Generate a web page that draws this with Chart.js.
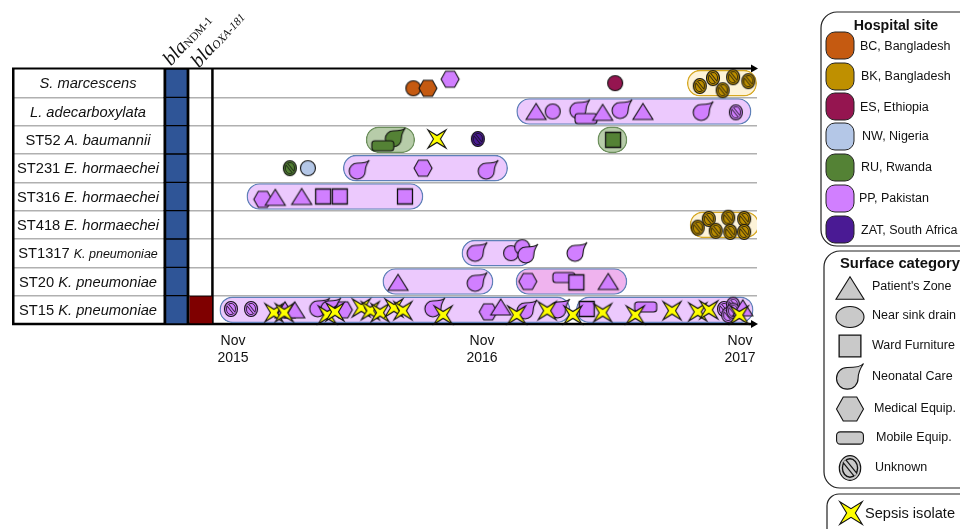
<!DOCTYPE html>
<html>
<head>
<meta charset="utf-8">
<title>Isolates timeline</title>
<script src="https://cdn.jsdelivr.net/npm/chart.js@4"></script>
<style>
    html, body { margin: 0; padding: 0; background: #fff; }
    canvas { display: block; }
</style>
</head>
<body>
<canvas id="chart" width="960" height="529"></canvas>
<script>
// rows, top to bottom
const strainTypes = ['', '', 'ST52', 'ST231', 'ST316', 'ST418', 'ST1317', 'ST20', 'ST15'];
const species = ['S. marcescens', 'L. adecarboxylata', 'A. baumannii', 'E. hormaechei', 'E. hormaechei',
    'E. hormaechei', 'K. pneumoniae', 'K. pneumoniae', 'K. pneumoniae'];
const blaNdm1 = [1, 1, 1, 1, 1, 1, 1, 1, 1];
const blaOxa181 = [0, 0, 0, 0, 0, 0, 0, 0, 1];

// x axis is days since 1 Nov 2015
const tickDays = [0, 359, 731];
const tickLabels = [['Nov', '2015'], ['Nov', '2016'], ['Nov', '2017']];

// outbreak bands
const bandRow = [0, 1, 2, 2, 3, 4, 5, 6, 7, 7, 8, 8];
const bandStart = [655, 409, 192, 526, 159, 20, 659, 330, 216, 408, -19, 495];
const bandEnd = [755, 747, 262, 568, 396, 274, 758, 431, 375, 568, 486, 750];
const bandSite = ['BK', 'PP', 'RU', 'RU', 'PP', 'PP', 'BK', 'PP', 'PP', 'PP+', 'PP', 'PP'];

// isolates: [day, row + offset within the row, site, surface]
const row0Isolates = [[260, 0.18, 'BC', 'drain'], [281, 0.18, 'BC', 'medical'], [313, -0.14, 'PP', 'medical'],
    [551, 0, 'ES', 'drain'], [673, 0.1, 'BK', 'unknown'], [692, -0.18, 'BK', 'unknown'], [706, 0.25, 'BK', 'unknown'],
    [721, -0.21, 'BK', 'unknown'], [743, -0.07, 'BK', 'unknown']];
const row1Isolates = [[437, 1, 'PP', 'patient'], [461, 1, 'PP', 'drain'], [500, 0.93, 'PP', 'neonatal'],
    [509, 1.25, 'PP', 'mobile'], [533, 1.03, 'PP', 'patient'], [561, 0.93, 'PP', 'neonatal'], [591, 1, 'PP', 'patient'],
    [678, 1, 'PP', 'neonatal'], [725, 1.03, 'PP', 'unknown']];
const row2Isolates = [[234, 1.93, 'RU', 'neonatal'], [216, 2.21, 'RU', 'mobile'], [353, 1.97, 'ZAT', 'unknown'],
    [548, 2, 'RU', 'furniture']];
const row3Isolates = [[82, 3, 'RU', 'unknown'], [108, 3, 'NW', 'drain'], [182, 3.07, 'PP', 'neonatal'],
    [274, 3, 'PP', 'medical'], [368, 3.07, 'PP', 'neonatal']];
const row4Isolates = [[43, 4.1, 'PP', 'medical'], [61, 4.03, 'PP', 'patient'], [99, 4, 'PP', 'patient'],
    [130, 4, 'PP', 'furniture'], [154, 4, 'PP', 'furniture'], [248, 4, 'PP', 'furniture']];
const row5Isolates = [[670, 5.1, 'BK', 'unknown'], [686, 4.79, 'BK', 'unknown'], [696, 5.21, 'BK', 'unknown'],
    [714, 4.75, 'BK', 'unknown'], [717, 5.25, 'BK', 'unknown'], [737, 4.79, 'BK', 'unknown'], [737, 5.25, 'BK', 'unknown']];
const row6Isolates = [[352, 5.97, 'PP', 'neonatal'], [401, 6, 'PP', 'drain'], [417, 5.79, 'PP', 'drain'],
    [425, 6.03, 'PP', 'neonatal'], [496, 5.97, 'PP', 'neonatal']];
const row7Isolates = [[238, 7.03, 'PP', 'patient'], [352, 7.03, 'PP', 'neonatal'], [425, 7, 'PP', 'medical'],
    [477, 6.86, 'PP', 'mobile'], [495, 7.03, 'PP', 'furniture'], [541, 7, 'PP', 'patient']];
const row8Isolates = [[-3, 7.97, 'PP', 'unknown'], [26, 7.97, 'PP', 'unknown'], [75, 8, 'PP', 'patient'],
    [89, 8, 'PP', 'patient'], [125, 7.93, 'PP', 'neonatal'], [141, 7.93, 'PP', 'neonatal'], [159, 8, 'PP', 'medical'],
    [291, 7.93, 'PP', 'neonatal'], [368, 8.07, 'PP', 'medical'], [386, 7.9, 'PP', 'patient'], [424, 8, 'PP', 'neonatal'],
    [471, 7.97, 'PP', 'neonatal'], [510, 7.97, 'PP', 'furniture'], [595, 7.9, 'PP', 'mobile'], [708, 7.97, 'PP', 'unknown'],
    [714, 8.18, 'PP', 'unknown'], [721, 7.82, 'PP', 'unknown'], [721, 8.03, 'PP', 'unknown'], [735, 7.93, 'PP', 'patient']];

// sepsis isolates: [day, row + offset]
const sepsisIsolates = [[294, 1.97], [59, 8.1], [74, 8.1], [136, 8.18], [147, 8.07], [185, 7.93], [198, 8.03],
    [212, 8.1], [232, 7.93], [245, 8.03], [303, 8.18], [409, 8.18], [453, 8.03], [490, 8.18], [533, 8.1], [580, 8.18],
    [633, 8.03], [670, 8.07], [686, 8], [730, 8.18]];

// legend entries
const siteKeys = ['BC', 'BK', 'ES', 'NW', 'RU', 'PP', 'ZAT'];
const siteNames = ['BC, Bangladesh', 'BK, Bangladesh', 'ES, Ethiopia', 'NW, Nigeria', 'RU, Rwanda', 'PP, Pakistan', 'ZAT, South Africa'];
const surfaceKeys = ['patient', 'drainOval', 'furniture', 'neonatal', 'medical', 'mobile', 'unknown'];
const surfaceNames = ["Patient's Zone", 'Near sink drain', 'Ward Furniture', 'Neonatal Care', 'Medical Equip.', 'Mobile Equip.', 'Unknown'];

const siteColors = { BC: '#c55a11', BK: '#bf9000', ES: '#951550', NW: '#b4c7e7', RU: '#548235', PP: '#d17fff', ZAT: '#4a1a94' };
const bandFills = { BK: '#fdf3d8', PP: '#ecc9fd', 'PP+': '#efb3ee', RU: '#b7cca9' };
const bandBorders = { BK: '#d6a823', PP: '#5f80b8', 'PP+': '#5f80b8', RU: '#6c8f5c' };
const SANS = '"Liberation Sans", Arial, sans-serif';
const SERIF = '"Liberation Serif", "Times New Roman", serif';

function tracePoly(c, pts) {
    c.beginPath();
    pts.forEach((p, i) => (i ? c.lineTo(p[0], p[1]) : c.moveTo(p[0], p[1])));
    c.closePath();
}

function drawShape(c, shape, x, y, s, fill) {
    c.save();
    c.translate(x, y);
    c.save();
    c.scale(s, s);
    if (shape === 'patient') {
        tracePoly(c, [[-10, 8], [10, 8], [0, -8]]);
    } else if (shape === 'drain') {
        c.beginPath();
        c.ellipse(0, 0, 7.5, 7.5, 0, 0, Math.PI * 2);
    } else if (shape === 'drainOval') {
        c.beginPath();
        c.ellipse(0, 0, 10, 7.5, 0, 0, Math.PI * 2);
    } else if (shape === 'furniture') {
        tracePoly(c, [[-7.5, -7.5], [7.5, -7.5], [7.5, 7.5], [-7.5, 7.5]]);
    } else if (shape === 'medical') {
        tracePoly(c, [[-9, 0], [-4.5, -8], [4.5, -8], [9, 0], [4.5, 8], [-4.5, 8]]);
    } else if (shape === 'mobile') {
        c.beginPath();
        c.roundRect(-11, -5, 22, 10, 3);
    } else if (shape === 'neonatal') {
        c.beginPath();
        c.moveTo(10, -10);
        c.bezierCurveTo(8, -7.5, 3, -7, -2, -7);
        c.bezierCurveTo(-6.5, -7, -10, -3.5, -10, 1);
        c.bezierCurveTo(-10, 5.5, -6.5, 9, -2, 9);
        c.bezierCurveTo(2.5, 9, 6, 5.5, 6, 1);
        c.bezierCurveTo(6, -3, 8, -7, 10, -10);
        c.closePath();
    } else if (shape === 'unknown') {
        c.beginPath();
        c.ellipse(0, 0, 6.5, 7.5, 0, 0, Math.PI * 2);
    } else if (shape === 'sepsis') {
        tracePoly(c, [[-9, -9], [0, -3.5], [9, -9], [3.5, 0], [9, 9], [0, 3.5], [-9, 9], [-3.5, 0]]);
    }
    c.restore();
    c.fillStyle = fill;
    c.fill();
    c.strokeStyle = '#111';
    c.lineWidth = shape === 'furniture' ? 1.3 : 1.1;
    c.stroke();
    if (shape === 'unknown') {
        c.scale(s, s);
        c.lineWidth = 0.8;
        c.beginPath();
        c.ellipse(0, 0, 4.6, 5.6, 0, 0, Math.PI * 2);
        c.stroke();
        c.lineWidth = 3;
        c.beginPath();
        c.moveTo(-3.4, -4.2);
        c.lineTo(3.4, 4.2);
        c.stroke();
        c.strokeStyle = fill;
        c.lineWidth = 1.6;
        c.stroke();
    }
    c.restore();
}

const iconCache = {};
function icon(shape, fill) {
    const key = shape + fill;
    if (!iconCache[key]) {
        const cv = document.createElement('canvas');
        cv.width = 40;
        cv.height = 40;
        drawShape(cv.getContext('2d'), shape, 20, 20, 1, fill);
        iconCache[key] = cv;
    }
    return iconCache[key];
}

const isolates = [].concat(row0Isolates, row1Isolates, row2Isolates, row3Isolates, row4Isolates,
    row5Isolates, row6Isolates, row7Isolates, row8Isolates);

const bands = bandRow.map((r, i) => ({ x: [bandStart[i], bandEnd[i]], y: r }));
const ndmCells = blaNdm1.map((v, i) => (v ? { x: [-100, -63], y: i } : null)).filter(Boolean);
const oxaCells = blaOxa181.map((v, i) => (v ? { x: [-63, -30], y: i } : null)).filter(Boolean);

function box(c, x, y, w, h, r) {
    c.beginPath();
    c.roundRect(x, y, w, h, r);
    c.strokeStyle = '#222';
    c.lineWidth = 1.2;
    c.stroke();
}

function label(c, text, x, y, font, align) {
    c.font = font;
    c.textAlign = align || 'left';
    c.textBaseline = 'middle';
    c.fillStyle = '#111';
    c.fillText(text, x, y);
}

function arrow(c, xStart, xEnd, y, w) {
    c.fillStyle = '#000';
    c.fillRect(xStart, y - w / 2, xEnd - xStart - 6, w);
    tracePoly(c, [[xEnd - 7, y - 4], [xEnd, y], [xEnd - 7, y + 4]]);
    c.fill();
}

const framePlugin = {
    id: 'frame',
    beforeDatasetsDraw(chart) {
        const c = chart.ctx;
        const { left, right, top, bottom } = chart.chartArea;
        const xs = chart.scales.x;
        c.save();
        c.fillStyle = '#000';
        c.fillRect(left, top - 1, 2.5, bottom - top + 2);
        c.fillRect(xs.getPixelForValue(-30) - 1, top, 2.5, bottom - top);
        arrow(c, left, right + 1, top - 0.5, 2);
        arrow(c, left, right + 1, bottom, 2.5);
        c.restore();
    },
    afterDraw(chart) {
        const c = chart.ctx;
        const ys = chart.scales.y;
        c.save();

        // row labels, strain type upright and species in italics
        strainTypes.forEach((st, i) => {
            const y = ys.getPixelForValue(i) + 1;
            const small = st === 'ST1317';
            const stFont = '14.7px ' + SANS;
            const spFont = 'italic ' + (small ? '12.5' : '14.7') + 'px ' + SANS;
            const head = st ? st + ' ' : '';
            c.font = stFont;
            const w1 = c.measureText(head).width;
            c.font = spFont;
            const w2 = c.measureText(species[i]).width;
            const x = 88 - (w1 + w2) / 2;
            if (head) label(c, head, x, y, stFont);
            label(c, species[i], x + w1, y, spFont);
        });

        // gene headers
        [['bla', 'NDM-1', 167, 63], ['bla', 'OXA-181', 195, 65]].forEach(g => {
            c.save();
            c.translate(g[2], g[3]);
            c.rotate(-48 * Math.PI / 180);
            const big = 'italic 20px ' + SERIF;
            const sub = (g[1] === 'NDM-1' ? '' : 'italic ') + '11.5px ' + SERIF;
            label(c, g[0], 0, 0, big);
            const w = c.measureText(g[0]).width;
            label(c, g[1], w, 3, sub);
            c.restore();
        });

        // hospital site legend
        box(c, 821, 12, 170, 234, 16);
        label(c, 'Hospital site', 896, 26, 'bold 14.2px ' + SANS, 'center');
        const swatchTop = [32, 63, 93, 123, 154, 185, 216];
        const siteLabelX = [860, 861, 860, 862, 861, 859, 861];
        const siteLabelY = [47, 77, 108, 137, 168, 199, 231];
        siteKeys.forEach((k, i) => {
            c.beginPath();
            c.roundRect(826, swatchTop[i], 28, 27, 9);
            c.fillStyle = siteColors[k];
            c.fill();
            c.strokeStyle = '#222';
            c.lineWidth = 1;
            c.stroke();
            label(c, siteNames[i], siteLabelX[i], siteLabelY[i], '12.5px ' + SANS);
        });

        // surface category legend
        box(c, 824, 251, 170, 237, 16);
        label(c, 'Surface category', 840, 264, 'bold 14.8px ' + SANS);
        const surfaceY = [288, 317, 346, 377, 409, 438, 468];
        const surfaceScale = [1.4, 1.4, 1.45, 1.35, 1.5, 1.22, 1.65];
        const surfaceLabelX = [872, 872, 872, 872, 874, 876, 875];
        surfaceKeys.forEach((k, i) => {
            drawShape(c, k, 850, surfaceY[i], surfaceScale[i], '#c9c9c9');
            label(c, surfaceNames[i], surfaceLabelX[i], surfaceY[i] - (i < 2 ? 1 : 0), '12.5px ' + SANS);
        });

        // sepsis legend
        box(c, 827, 494, 170, 50, 12);
        drawShape(c, 'sepsis', 851, 513, 1.25, '#ffff00');
        label(c, 'Sepsis isolate', 865, 514, '14.6px ' + SANS);
        c.restore();
    }
};

new Chart(document.getElementById('chart').getContext('2d'), {
    type: 'scatter',
    data: {
        datasets: [
            {
                label: 'Sepsis isolate',
                order: 0,
                data: sepsisIsolates.map(d => ({ x: d[0], y: d[1] })),
                pointStyle: () => icon('sepsis', '#ffff00'),
                pointRadius: 9,
                clip: false
            },
            {
                label: 'Isolates',
                order: 1,
                data: isolates.map(d => ({ x: d[0], y: d[1] })),
                pointStyle: ctx => icon(isolates[ctx.dataIndex][3], siteColors[isolates[ctx.dataIndex][2]]),
                pointRadius: 9,
                clip: false
            },
            {
                type: 'bar',
                label: 'Bands',
                order: 2,
                indexAxis: 'y',
                grouped: false,
                data: bands,
                barPercentage: 1,
                categoryPercentage: 1,
                maxBarThickness: 26,
                borderSkipped: false,
                borderRadius: 13,
                borderWidth: 1.4,
                backgroundColor: ctx => bandFills[bandSite[ctx.dataIndex]],
                borderColor: ctx => bandBorders[bandSite[ctx.dataIndex]]
            },
            {
                type: 'bar',
                label: 'blaNDM-1',
                order: 3,
                indexAxis: 'y',
                grouped: false,
                data: ndmCells,
                barPercentage: 1,
                categoryPercentage: 1,
                borderSkipped: false,
                borderWidth: { top: 1, bottom: 1, left: 3, right: 3 },
                borderColor: '#000',
                backgroundColor: '#2f5597'
            },
            {
                type: 'bar',
                label: 'blaOXA-181',
                order: 3,
                indexAxis: 'y',
                grouped: false,
                data: oxaCells,
                barPercentage: 1,
                categoryPercentage: 1,
                maxBarThickness: 28,
                borderSkipped: false,
                borderWidth: { top: 1, bottom: 1, left: 0, right: 0 },
                borderColor: '#000',
                backgroundColor: '#7f0000'
            }
        ]
    },
    options: {
        responsive: false,
        animation: false,
        events: [],
        layout: { padding: { left: 12, right: 203, top: 69, bottom: 155 } },
        plugins: { legend: { display: false }, tooltip: { enabled: false } },
        scales: {
            x: {
                type: 'linear',
                min: -318.6,
                max: 755.5,
                grid: { display: false },
                border: { display: false },
                afterFit: scale => { scale.height = 50; },
                afterBuildTicks: scale => { scale.ticks = tickDays.map(v => ({ value: v })); },
                ticks: {
                    autoSkip: false,
                    maxRotation: 0,
                    padding: 1,
                    color: '#111',
                    font: { family: SANS, size: 14 },
                    callback: (v, i) => tickLabels[i]
                }
            },
            y: {
                type: 'linear',
                reverse: true,
                offset: false,
                min: -0.5,
                max: 8.5,
                border: { display: false },
                afterFit: scale => { scale.width = 0; },
                afterBuildTicks: scale => { scale.ticks = [0.5, 1.5, 2.5, 3.5, 4.5, 5.5, 6.5, 7.5].map(v => ({ value: v })); },
                grid: { color: '#b0b0b0', lineWidth: 1.5, drawTicks: false, offset: false },
                ticks: { display: false, autoSkip: false }
            }
        }
    },
    plugins: [framePlugin]
});
</script>
</body>
</html>
